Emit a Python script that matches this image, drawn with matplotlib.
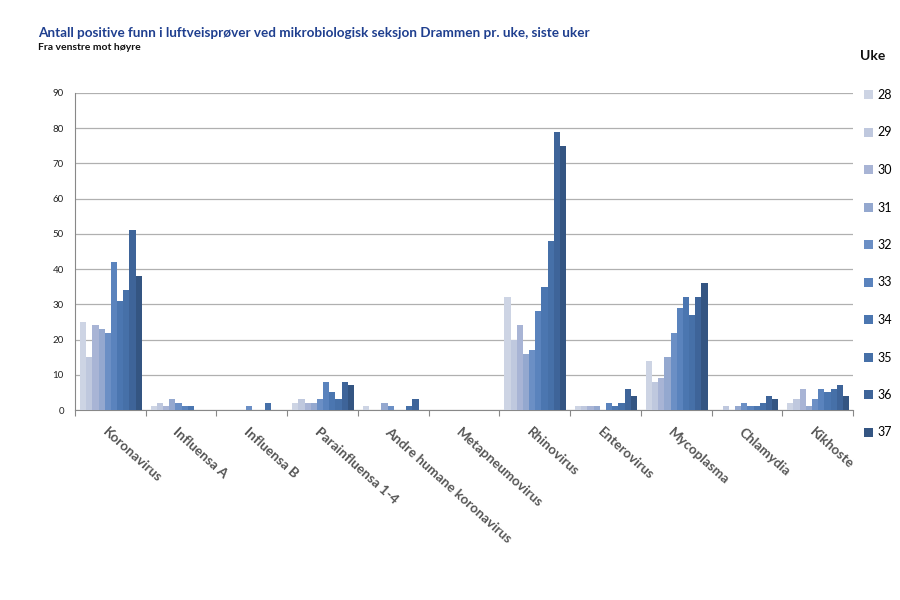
import matplotlib
matplotlib.use("Agg")
import matplotlib.pyplot as plt
import numpy as np
from matplotlib.patches import Patch

plt.rcParams['font.family'] = ['Lato', 'DejaVu Sans']

categories = ["Koronavirus", "Influensa A", "Influensa B", "Parainfluensa 1-4",
              "Andre humane koronavirus", "Metapneumovirus", "Rhinovirus",
              "Enterovirus", "Mycoplasma", "Chlamydia", "Kikhoste"]
weeks = ["28", "29", "30", "31", "32", "33", "34", "35", "36", "37"]

# values per week (rows) for each category (columns)
w28 = [25, 1, 0, 2, 1, 0, 32, 1, 14, 0, 2]
w29 = [15, 2, 0, 3, 0, 0, 20, 1, 8, 1, 3]
w30 = [24, 1, 0, 2, 0, 0, 24, 1, 9, 0, 6]
w31 = [23, 3, 0, 2, 2, 0, 16, 1, 15, 1, 1]
w32 = [22, 2, 1, 3, 1, 0, 17, 0, 22, 2, 3]
w33 = [42, 1, 0, 8, 0, 0, 28, 2, 29, 1, 6]
w34 = [31, 1, 0, 5, 0, 0, 35, 1, 32, 1, 5]
w35 = [34, 0, 2, 3, 1, 0, 48, 2, 27, 2, 6]
w36 = [51, 0, 0, 8, 3, 0, 79, 6, 32, 4, 7]
w37 = [38, 0, 0, 7, 0, 0, 75, 4, 36, 3, 4]
series = [w28, w29, w30, w31, w32, w33, w34, w35, w36, w37]

colors = ["#cdd4e4", "#bfc8de", "#a8b4d5", "#94a8cf", "#6b8fc5",
          "#5a83bd", "#4b76b0", "#4670a8", "#3e6499", "#345582"]

fig = plt.figure(figsize=(9, 6), dpi=100)
ax = fig.add_axes([75/900, 1-410/600, (853-75)/900, (410-93)/600])

n = len(series)
x = np.arange(len(categories))
bw = 0.0874
offset0 = -0.5 + 5/70.6
for i, vals in enumerate(series):
    ax.bar(x + offset0 + i*bw, vals, width=bw, align='edge',
           color=colors[i], edgecolor='none', zorder=3, label=weeks[i])

ax.set_xlim(-0.5, len(categories)-0.5)
ax.set_ylim(0, 90)
ax.set_yticks(range(0, 91, 10))
ax.tick_params(axis='y', labelsize=7, length=0, pad=8, colors='#222222')
ax.yaxis.grid(True, color='#b0b0b0', linewidth=0.9, zorder=0)
for s in ['top', 'right']:
    ax.spines[s].set_visible(False)
ax.spines['left'].set_color('#888888')
ax.spines['bottom'].set_color('#888888')

ax.set_xticks(np.arange(-0.5, len(categories)), minor=False)
ax.set_xticklabels([])
ax.tick_params(axis='x', length=4, color='#888888', direction='out')
for xi, cat in zip(x, categories):
    ax.text(xi - 0.03, -4.5, cat, rotation=-42, ha='left', va='top',
            rotation_mode='anchor', fontsize=9.8, fontweight='bold',
            color='#555555')

fig.text(38/900, 1-33/600, "Antall positive funn i luftveisprøver ved mikrobiologisk seksjon Drammen pr. uke, siste uker",
         fontsize=9.7, fontweight='bold', color='#1f3f8f', va='center')
fig.text(38/900, 1-47/600, "Fra venstre mot høyre", fontsize=7.5,
         fontweight='bold', color='#111111', va='center')

fig.text(860/900, 1-56/600, "Uke", fontsize=10, fontweight='bold',
         color='#111111', va='center')

handles = [Patch(facecolor=c, edgecolor='none') for c in colors]
leg = fig.legend(handles, weeks, loc='upper left',
                 bbox_to_anchor=(864/900, 1-89/600), frameon=False,
                 fontsize=9, handlelength=0.7, handleheight=0.7,
                 handletextpad=0.4, labelspacing=2.04, borderaxespad=0,
                 borderpad=0)

fig.savefig("out.png", dpi=100)
